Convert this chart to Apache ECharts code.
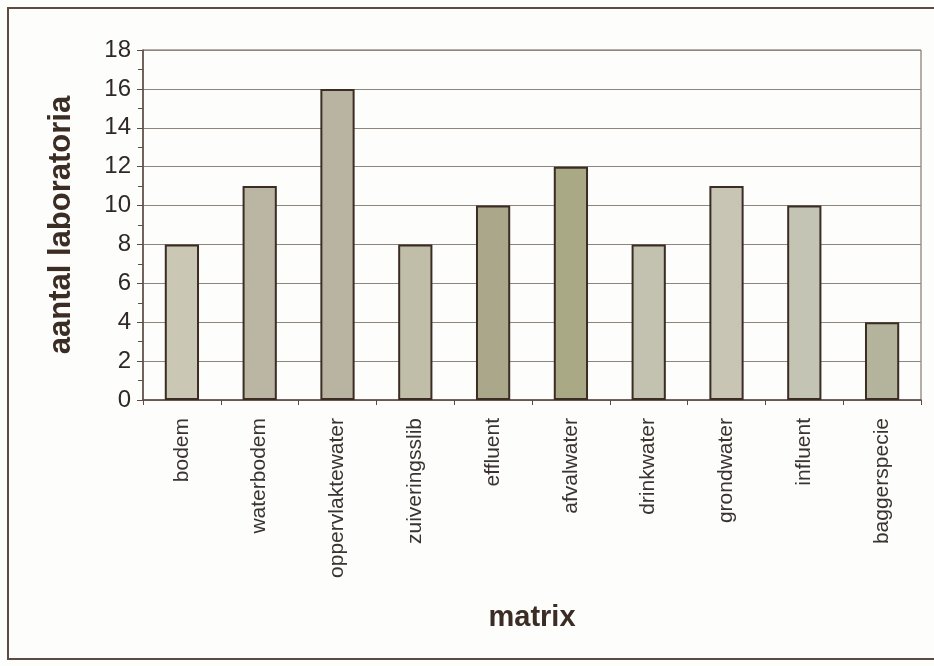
<!DOCTYPE html>
<html>
<head>
<meta charset="utf-8">
<script src="https://cdn.jsdelivr.net/npm/echarts@6/dist/echarts.min.js"></script>
<style>
  html, body { margin: 0; padding: 0; background: #fdfdfb; }
  #frame { position: absolute; left: 7px; top: 7px; width: 940px; height: 653px; border: 2px solid #5b4b42; box-sizing: border-box; }
  #chart { position: absolute; left: 0; top: 0; width: 934px; height: 666px; }
</style>
</head>
<body>
<div id="frame"></div>
<div id="chart"></div>
<script>
const categories = ['bodem', 'waterbodem', 'oppervlaktewater', 'zuiveringsslib', 'effluent', 'afvalwater', 'drinkwater', 'grondwater', 'influent', 'baggerspecie']
const labCounts = [8, 11, 16, 8, 10, 12, 8, 11, 10, 4]
const yTicks = [0, 2, 4, 6, 8, 10, 12, 14, 16, 18]

// scanned fill tones, one per bar
const barColors = ['#cac7b5', '#bbb5a3', '#b9b4a1', '#c0bda9', '#aaa78a', '#a9a986', '#c3c2b0', '#c8c5b5', '#c4c4b4', '#b4b39b']

const ink = '#3b2c24'
const chart = echarts.init(document.getElementById('chart'), null, { renderer: 'canvas' })

chart.setOption({
  animation: false,
  grid: {
    left: 143, right: 13, top: 50, bottom: 266,
    show: true, borderColor: '#6b5d55', borderWidth: 1,
  },
  xAxis: {
    type: 'category',
    data: categories,
    name: 'matrix',
    nameLocation: 'middle',
    nameGap: 203,
    nameTextStyle: { fontFamily: 'Liberation Sans', fontSize: 29, fontWeight: 'bold', color: ink },
    axisLine: { lineStyle: { color: '#5b4b42', width: 1.5 } },
    axisTick: { show: true, length: 5, alignWithLabel: false, lineStyle: { color: '#5b4b42' } },
    axisLabel: {
      rotate: 90, margin: 18, interval: 0,
      fontFamily: 'Liberation Sans', fontSize: 21, color: '#3a3330',
    },
  },
  yAxis: {
    type: 'value',
    min: 0, max: 18, interval: 2,
    name: 'aantal laboratoria',
    nameLocation: 'middle',
    nameGap: 66,
    nameTextStyle: { fontFamily: 'Liberation Sans', fontSize: 31, fontWeight: 'bold', color: ink },
    axisLine: { show: true, lineStyle: { color: '#5b4b42', width: 1.5 } },
    axisTick: { show: true, length: 6, lineStyle: { color: '#5b4b42' } },
    minorTick: { show: true, splitNumber: 2, length: 5, lineStyle: { color: '#5b4b42' } },
    axisLabel: {
      margin: 12,
      fontFamily: 'Liberation Sans', fontSize: 24, color: '#2e2926',
      formatter: v => yTicks.includes(v) ? String(v) : '',
    },
    splitLine: { lineStyle: { color: '#8e857d', width: 1.2 } },
  },
  series: [{
    type: 'bar',
    data: labCounts.map((v, i) => ({ value: v, itemStyle: { color: barColors[i] } })),
    barWidth: '44%',
    itemStyle: { borderColor: ink, borderWidth: 2 },
  }],
})
</script>
</body>
</html>
